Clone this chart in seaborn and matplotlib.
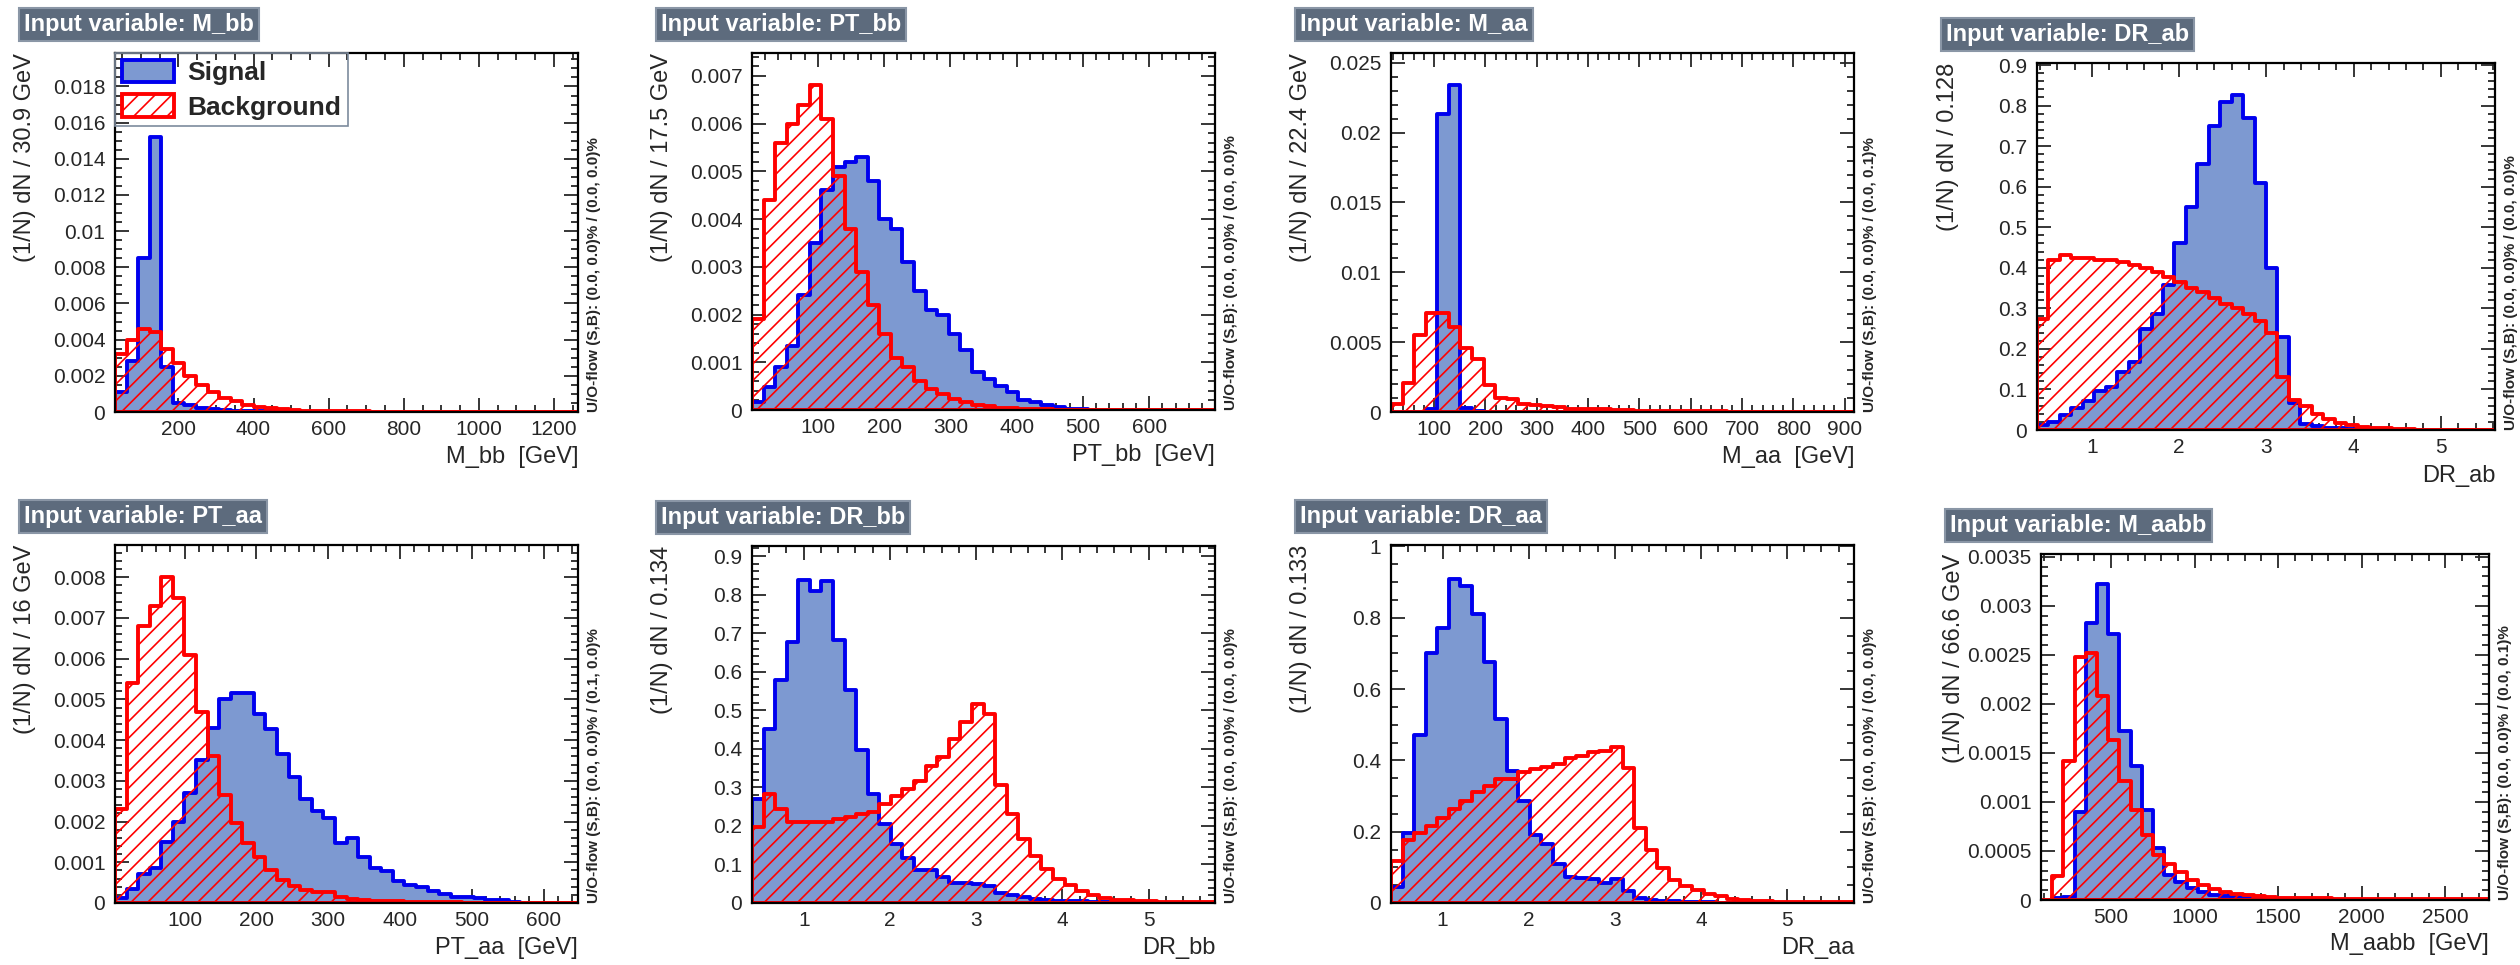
import numpy as np
import pandas as pd
import matplotlib.pyplot as plt
import matplotlib.ticker as mticker
from matplotlib.patches import Patch
import seaborn as sns

# ---- values (40 bins per variable) ----
variables = ['M_bb', 'PT_bb', 'M_aa', 'DR_ab', 'PT_aa', 'DR_bb', 'DR_aa', 'M_aabb']

mbb_sig = [0.0011, 0.0028, 0.0085, 0.0152, 0.0025, 0.0005, 0.0004, 0.0002, 0.00015, 0.0001,
           0.00007, 0.00005, 0.00004, 0.00003, 0.00002, 0.00001, 0, 0, 0, 0,
           0, 0, 0, 0, 0, 0, 0, 0, 0, 0,
           0, 0, 0, 0, 0, 0, 0, 0, 0, 0]
mbb_bkg = [0.0032, 0.0040, 0.0046, 0.0044, 0.0035, 0.0027, 0.0020, 0.0015, 0.0011, 0.0008,
           0.0006, 0.0004, 0.0003, 0.0002, 0.00015, 0.0001, 0.00008, 0.00006, 0.00005, 0.00004,
           0.00003, 0.00003, 0.00002, 0.00002, 0.00002, 0.00001, 0.00001, 0.00001, 0.00001, 0.00001,
           0.00001, 0, 0, 0, 0, 0, 0, 0, 0, 0]

ptbb_sig = [0.00016, 0.00048, 0.0009, 0.00135, 0.0024, 0.0035, 0.0046, 0.0051, 0.0052, 0.0053,
            0.0048, 0.0040, 0.0038, 0.0031, 0.0025, 0.0021, 0.0020, 0.0016, 0.00125, 0.0008,
            0.00065, 0.0005, 0.00037, 0.0002, 0.00016, 0.0001, 0.00007, 0.00003, 0.00002, 0.00001,
            0, 0, 0, 0, 0, 0, 0, 0, 0, 0]
ptbb_bkg = [0.0019, 0.0044, 0.0056, 0.0060, 0.0064, 0.0068, 0.0061, 0.0049, 0.0038, 0.0029,
            0.0022, 0.0016, 0.0011, 0.0009, 0.0006, 0.00044, 0.00034, 0.00023, 0.00016, 0.0001,
            0.00008, 0.00005, 0.00004, 0.00003, 0.00002, 0.00002, 0.00001, 0.00001, 0.00001, 0.00001,
            0, 0, 0, 0, 0, 0, 0, 0, 0, 0]

maa_sig = [0, 0, 0, 0.0002, 0.0213, 0.0234, 0.0003, 0.0001, 0, 0,
           0, 0, 0, 0, 0, 0, 0, 0, 0, 0,
           0, 0, 0, 0, 0, 0, 0, 0, 0, 0,
           0, 0, 0, 0, 0, 0, 0, 0, 0, 0]
maa_bkg = [0.00055, 0.0021, 0.0055, 0.0071, 0.0071, 0.0061, 0.0046, 0.0038, 0.0019, 0.0010,
           0.0009, 0.00055, 0.0005, 0.0004, 0.00035, 0.00025, 0.0002, 0.0002, 0.00018, 0.00015,
           0.00012, 0.0001, 0.0001, 0.00008, 0.00007, 0.00006, 0.00005, 0.00004, 0.00004, 0.00003,
           0.00003, 0.00002, 0.00002, 0.00002, 0.00001, 0.00001, 0.00001, 0.00001, 0.00001, 0.00001]

drab_sig = [0.012, 0.02, 0.038, 0.055, 0.071, 0.096, 0.105, 0.143, 0.168, 0.25,
            0.285, 0.357, 0.46, 0.55, 0.655, 0.75, 0.81, 0.825, 0.77, 0.61,
            0.40, 0.23, 0.066, 0.016, 0.01, 0.006, 0.004, 0.003, 0.002, 0.001,
            0, 0, 0, 0, 0, 0, 0, 0, 0, 0]
drab_bkg = [0.273, 0.42, 0.432, 0.425, 0.424, 0.42, 0.418, 0.414, 0.407, 0.40,
            0.39, 0.377, 0.365, 0.35, 0.34, 0.326, 0.31, 0.30, 0.285, 0.27,
            0.24, 0.13, 0.075, 0.058, 0.04, 0.027, 0.018, 0.012, 0.008, 0.006,
            0.004, 0.003, 0.002, 0.001, 0.001, 0.001, 0.001, 0.001, 0.001, 0.001]

ptaa_sig = [0.00012, 0.00035, 0.0007, 0.00086, 0.0015, 0.0020, 0.0027, 0.0035, 0.0043, 0.0050,
            0.00516, 0.00516, 0.00465, 0.00428, 0.00366, 0.0031, 0.00255, 0.00226, 0.00208, 0.00148,
            0.0016, 0.00113, 0.00086, 0.00078, 0.00055, 0.00044, 0.00039, 0.00029, 0.00022, 0.00014,
            0.00014, 0.00012, 0.00008, 0.00008, 0.00003, 0, 0, 0, 0, 0]
ptaa_bkg = [0.0023, 0.0054, 0.0068, 0.0073, 0.0080, 0.0075, 0.0061, 0.0047, 0.0036, 0.00266,
            0.00196, 0.00148, 0.00113, 0.00082, 0.00056, 0.00041, 0.00033, 0.00027, 0.00027, 0.00014,
            0.0001, 0.00008, 0.00006, 0.00005, 0.00004, 0.00003, 0.00003, 0.00002, 0.00002, 0.00002,
            0.00001, 0.00001, 0.00001, 0.00001, 0.00001, 0, 0, 0, 0, 0]

drbb_sig = [0.27, 0.452, 0.578, 0.678, 0.839, 0.809, 0.835, 0.683, 0.552, 0.396,
            0.283, 0.204, 0.152, 0.117, 0.085, 0.085, 0.068, 0.052, 0.052, 0.048,
            0.043, 0.026, 0.021, 0.015, 0.011, 0.008, 0.006, 0.005, 0.004, 0.003,
            0.002, 0.002, 0.001, 0, 0, 0, 0, 0, 0, 0]
drbb_bkg = [0.196, 0.283, 0.243, 0.209, 0.209, 0.209, 0.209, 0.217, 0.224, 0.23,
            0.237, 0.257, 0.277, 0.296, 0.317, 0.355, 0.378, 0.426, 0.47, 0.515,
            0.49, 0.306, 0.23, 0.165, 0.122, 0.089, 0.061, 0.046, 0.032, 0.022,
            0.013, 0.009, 0.007, 0.005, 0.004, 0.003, 0.002, 0.002, 0.002, 0.002]

draa_sig = [0.045, 0.195, 0.47, 0.70, 0.772, 0.91, 0.89, 0.81, 0.675, 0.515,
            0.37, 0.285, 0.19, 0.165, 0.11, 0.072, 0.07, 0.068, 0.055, 0.066,
            0.033, 0.014, 0.009, 0.007, 0.005, 0.004, 0.003, 0.002, 0.001, 0,
            0, 0, 0, 0, 0, 0, 0, 0, 0, 0]
draa_bkg = [0.117, 0.178, 0.197, 0.216, 0.239, 0.263, 0.286, 0.31, 0.329, 0.347,
            0.349, 0.368, 0.376, 0.382, 0.39, 0.406, 0.413, 0.423, 0.427, 0.437,
            0.38, 0.211, 0.15, 0.099, 0.064, 0.047, 0.036, 0.025, 0.019, 0.012,
            0.009, 0.007, 0.005, 0.004, 0.003, 0.002, 0.002, 0.002, 0.002, 0.002]

maabb_sig = [0, 0.00002, 0.00003, 0.0009, 0.00282, 0.00322, 0.00271, 0.00172, 0.00137, 0.00092,
             0.00053, 0.00025, 0.00018, 0.00012, 0.00008, 0.00005, 0.00004, 0.00003, 0.00002, 0.00001,
             0, 0, 0, 0, 0, 0, 0, 0, 0, 0,
             0, 0, 0, 0, 0, 0, 0, 0, 0, 0]
maabb_bkg = [0, 0.00024, 0.00142, 0.00248, 0.00252, 0.00208, 0.00163, 0.00121, 0.00092, 0.00066,
             0.00046, 0.00037, 0.00029, 0.0002, 0.00015, 0.00011, 0.00008, 0.000065, 0.00005, 0.00004,
             0.00003, 0.00002, 0.00002, 0.00002, 0.00002, 0.00002, 0.00001, 0.00001, 0.00001, 0.00001,
             0.00001, 0.00001, 0.00001, 0.00001, 0.00001, 0.00001, 0.00001, 0.00001, 0.00001, 0.00001]

signal = [mbb_sig, ptbb_sig, maa_sig, drab_sig, ptaa_sig, drbb_sig, draa_sig, maabb_sig]
background = [mbb_bkg, ptbb_bkg, maa_bkg, drab_bkg, ptaa_bkg, drbb_bkg, draa_bkg, maabb_bkg]

x_ranges = [(31, 1264), (0.5, 699.5), (16, 918), (0.37, 5.62),
            (3, 648), (0.40, 5.77), (0.40, 5.78), (80, 2762)]
y_max = [0.01985, 0.00748, 0.0257, 0.905, 0.00879, 0.926, 1.004, 0.003528]
x_steps = [200, 100, 100, 1, 100, 1, 1, 500]
y_steps = [0.002, 0.001, 0.005, 0.1, 0.001, 0.1, 0.2, 0.0005]

y_labels = ['(1/N) dN / 30.9 GeV', '(1/N) dN / 17.5 GeV', '(1/N) dN / 22.4 GeV', '(1/N) dN / 0.128',
            '(1/N) dN / 16 GeV', '(1/N) dN / 0.134', '(1/N) dN / 0.133', '(1/N) dN / 66.6 GeV']
x_labels = ['M_bb  [GeV]', 'PT_bb  [GeV]', 'M_aa  [GeV]', 'DR_ab',
            'PT_aa  [GeV]', 'DR_bb', 'DR_aa', 'M_aabb  [GeV]']
overflow = ['(0.0, 0.0)% / (0.0, 0.0)%', '(0.0, 0.0)% / (0.0, 0.0)%',
            '(0.0, 0.0)% / (0.0, 0.1)%', '(0.0, 0.0)% / (0.0, 0.0)%',
            '(0.0, 0.0)% / (0.1, 0.0)%', '(0.0, 0.0)% / (0.0, 0.0)%',
            '(0.0, 0.0)% / (0.0, 0.0)%', '(0.0, 0.0)% / (0.0, 0.1)%']

# ---- layout (pixels: left, top, right, bottom) ----
axes_px = [(115, 53, 578, 412), (752, 53, 1215, 410), (1391, 53, 1854, 412), (2037, 63, 2495, 430),
           (115, 545, 578, 903), (752, 546, 1215, 903), (1391, 545, 1854, 903), (2041, 554, 2489, 900)]

SIG_FILL = '#7d99d1'
SIG_LINE = '#0000ee'
BKG_LINE = '#ff0000'
TITLE_BOX = '#5d6b7d'
TITLE_EDGE = '#8a96a6'

sns.set_style('ticks')
plt.rcParams['font.family'] = ['Liberation Sans', 'DejaVu Sans']
plt.rcParams['hatch.linewidth'] = 1.2

W, H = 2520, 965
fig = plt.figure(figsize=(W / 100, H / 100), dpi=100)


def fmt(v, pos):
    return f'{round(v, 8):g}'


def n_minor(step):
    mant = step / 10 ** np.floor(np.log10(step))
    return 4 if abs(mant - 2) < 1e-6 else 5


for i, name in enumerate(variables):
    l, t, r, b = axes_px[i]
    ax = fig.add_axes([l / W, 1 - b / H, (r - l) / W, (b - t) / H])
    lo, hi = x_ranges[i]
    edges = np.linspace(lo, hi, len(signal[i]) + 1)
    df = pd.DataFrame({'x': 0.5 * (edges[:-1] + edges[1:]),
                       'sig': signal[i], 'bkg': background[i]})
    bin_list = edges.tolist()

    sns.histplot(data=df, x='x', weights='sig', bins=bin_list, element='step', fill=True,
                 color=SIG_LINE, facecolor=SIG_FILL, edgecolor=SIG_LINE, linewidth=2.8,
                 alpha=1, ax=ax)
    sns.histplot(data=df, x='x', weights='bkg', bins=bin_list, element='step', fill=True,
                 color=BKG_LINE, facecolor='none', edgecolor=BKG_LINE, hatch='//',
                 linewidth=2.8, alpha=1, ax=ax)

    ax.set_xlim(lo, hi)
    ax.set_ylim(0, y_max[i])
    ax.xaxis.set_major_locator(mticker.MultipleLocator(x_steps[i]))
    ax.xaxis.set_minor_locator(mticker.MultipleLocator(x_steps[i] / n_minor(x_steps[i])))
    ax.yaxis.set_major_locator(mticker.MultipleLocator(y_steps[i]))
    ax.yaxis.set_minor_locator(mticker.MultipleLocator(y_steps[i] / n_minor(y_steps[i])))
    ax.xaxis.set_major_formatter(mticker.FuncFormatter(fmt))
    ax.yaxis.set_major_formatter(mticker.FuncFormatter(fmt))
    ax.tick_params(which='both', direction='in', top=True, right=True, width=1.3, labelsize=15)
    ax.tick_params(which='major', length=10)
    ax.tick_params(which='minor', length=5)
    ax.tick_params(axis='y', pad=7)
    ax.tick_params(axis='x', pad=6)
    for sp in ax.spines.values():
        sp.set_linewidth(1.6)
        sp.set_color('black')

    ax.set_ylabel(y_labels[i], fontsize=17, loc='top')
    ax.yaxis.set_label_coords(-0.17, 1.0)
    ax.set_xlabel(x_labels[i], fontsize=17, loc='right')
    ax.xaxis.set_label_coords(1.0, -0.095)

    ax.text(1 + 16 / (r - l), 0, 'U/O-flow (S,B): ' + overflow[i], transform=ax.transAxes,
            rotation=90, ha='center', va='bottom', fontsize=11, fontweight='bold')

    fig.text((l - 91) / W, 1 - (t - 28.5) / H, 'Input variable: ' + name,
             color='white', fontsize=17, fontweight='bold', ha='left', va='center',
             bbox=dict(boxstyle='square,pad=0.22', facecolor=TITLE_BOX,
                       edgecolor=TITLE_EDGE, linewidth=1.5))

    if i == 0:
        handles = [Patch(facecolor=SIG_FILL, edgecolor=SIG_LINE, linewidth=2.8),
                   Patch(facecolor='white', edgecolor=BKG_LINE, hatch='//', linewidth=2.8)]
        leg = ax.legend(handles, ['Signal', 'Background'], loc='upper left',
                        bbox_to_anchor=(0, 1), borderaxespad=0, fancybox=False,
                        prop={'size': 19, 'weight': 'bold'}, handlelength=2.0,
                        handleheight=0.95, labelspacing=0.35, borderpad=0.25,
                        handletextpad=0.5, framealpha=1)
        leg.get_frame().set_facecolor('none')
        leg.get_frame().set_edgecolor('#7d8b9d')
        leg.get_frame().set_linewidth(1.2)

fig.savefig('out.png', dpi=100)
